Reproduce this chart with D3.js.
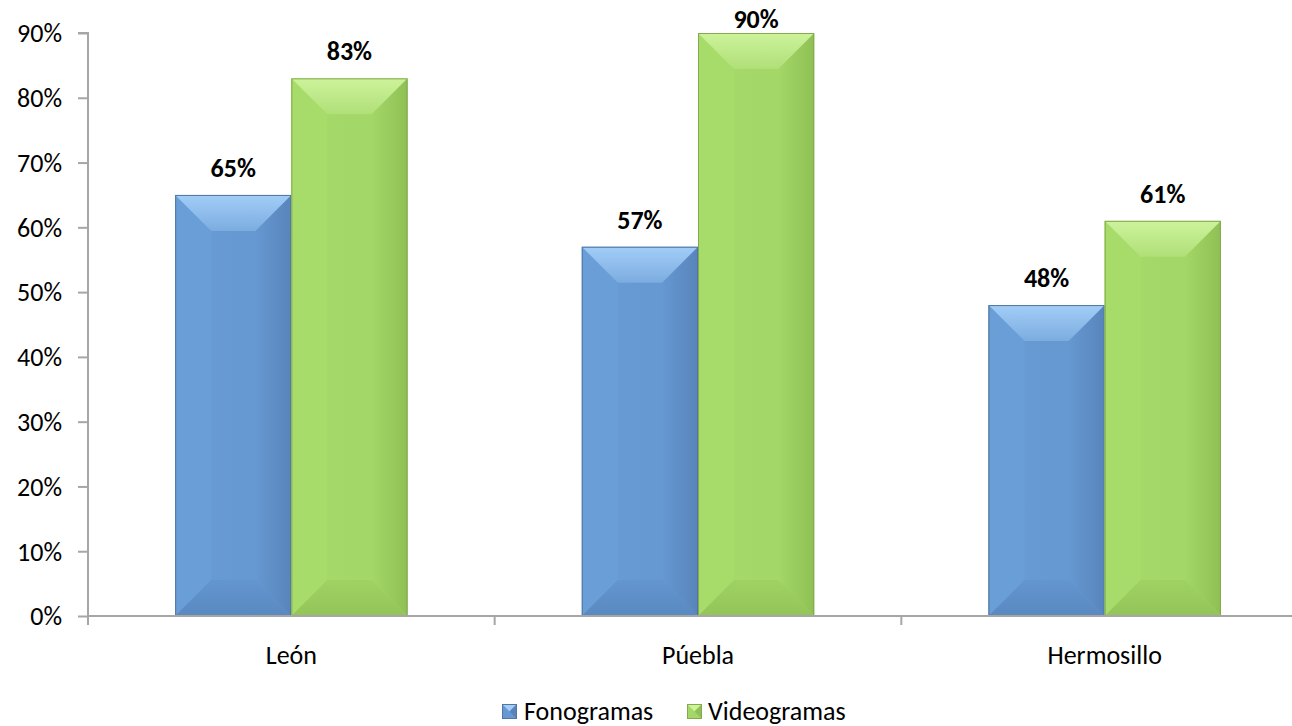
<!DOCTYPE html>
<html>
<head>
<meta charset="utf-8">
<script src="https://cdn.jsdelivr.net/npm/d3@7"></script>
<style>
  html, body { margin: 0; padding: 0; background: #ffffff; }
  svg { display: block; font-family: Carlito, Calibri, Lato, "Open Sans", sans-serif; }
</style>
</head>
<body>
<svg id="chart" width="1292" height="726"></svg>
<script>
// Chart data
const categories = ["León", "Púebla", "Hermosillo"];
const seriesNames = ["Fonogramas", "Videogramas"];
const fonogramas = [65, 57, 48];
const videogramas = [83, 90, 61];
const yTicks = [0, 10, 20, 30, 40, 50, 60, 70, 80, 90];

const seriesValues = [fonogramas, videogramas];

const FONT = "Carlito, Calibri, Lato, 'Open Sans', sans-serif";
const FS = 26;

// Bevel shading for each series: top, left, center, right, bottom, outline
const palettes = [
  { topA: "#a2cdf8", topB: "#7cacdf", left: "#6a9ed7", center: "#6698d1", right: "#5884bb",
    bottomA: "#6395cf", bottomB: "#5a89c0", stroke: "#52779f" },
  { topA: "#cdf39b", topB: "#b0df78", left: "#a7dc6b", center: "#a3d767", right: "#8fc055",
    bottomA: "#9fd263", bottomB: "#93c459", stroke: "#84a94f" }
];

const svg = d3.select("#chart");
const plot = { left: 88, right: 1308, top: 33, bottom: 616 };

const x = d3.scaleBand()
  .domain(categories)
  .range([plot.left, plot.right])
  .paddingInner(0.4286)
  .paddingOuter(0.2143);

const xs = d3.scaleBand()
  .domain(seriesNames)
  .range([0, x.bandwidth()])
  .padding(0);

const y = d3.scaleLinear()
  .domain([0, 90])
  .range([plot.bottom, plot.top]);

// Gradients
const defs = svg.append("defs");
palettes.forEach((p, i) => {
  const gt = defs.append("linearGradient").attr("id", "top" + i)
    .attr("x1", 0).attr("y1", 0).attr("x2", 0).attr("y2", 1);
  gt.append("stop").attr("offset", "0%").attr("stop-color", p.topA);
  gt.append("stop").attr("offset", "100%").attr("stop-color", p.topB);
  const gb = defs.append("linearGradient").attr("id", "bot" + i)
    .attr("x1", 0).attr("y1", 0).attr("x2", 0).attr("y2", 1);
  gb.append("stop").attr("offset", "0%").attr("stop-color", p.bottomA);
  gb.append("stop").attr("offset", "100%").attr("stop-color", p.bottomB);
  const gc = defs.append("linearGradient").attr("id", "ctr" + i)
    .attr("x1", 0).attr("y1", 0).attr("x2", 1).attr("y2", 0);
  gc.append("stop").attr("offset", "0%").attr("stop-color", p.left);
  gc.append("stop").attr("offset", "50%").attr("stop-color", p.center);
  gc.append("stop").attr("offset", "100%").attr("stop-color", p.center);
  const gr = defs.append("linearGradient").attr("id", "rgt" + i)
    .attr("x1", 0).attr("y1", 0).attr("x2", 1).attr("y2", 0);
  gr.append("stop").attr("offset", "0%").attr("stop-color", p.center);
  gr.append("stop").attr("offset", "100%").attr("stop-color", p.right);
});

// Y axis
const yAxis = d3.axisLeft(y)
  .tickValues(yTicks)
  .tickFormat(d => d + "%")
  .tickSize(10)
  .tickPadding(16);

const yg = svg.append("g")
  .attr("transform", `translate(${plot.left},0)`)
  .call(yAxis);
yg.attr("font-family", FONT).attr("font-size", FS);
yg.select(".domain").attr("stroke", "#a6a6a6").attr("stroke-width", 2)
  .attr("d", `M-10,${plot.top}H0V${plot.bottom}`);
yg.selectAll(".tick line").attr("stroke", "#a6a6a6").attr("stroke-width", 2);
yg.selectAll(".tick text").attr("fill", "#000").attr("dy", "0.34em");

// Bars with bevel faces
const bars = svg.append("g");
const labels = svg.append("g").attr("font-family", FONT).attr("font-size", FS).attr("font-weight", "bold");
const poly = pts => pts.map(q => q.join(",")).join(" ");
categories.forEach((cat, ci) => {
  seriesNames.forEach((s, si) => {
    const v = seriesValues[si][ci];
    const x0 = x(cat) + xs(s);
    const x1 = x0 + xs.bandwidth();
    const y0 = y(v);
    const y1 = y(0);
    const b = Math.min(36, (x1 - x0) / 2, (y1 - y0) / 2);
    const p = palettes[si];
    const g = bars.append("g");
    // center
    g.append("rect").attr("x", x0).attr("y", y0).attr("width", x1 - x0).attr("height", y1 - y0)
      .attr("fill", `url(#ctr${si})`);
    // right strip
    g.append("polygon").attr("points", poly([[x1, y0], [x1, y1], [x1 - b, y1 - b], [x1 - b, y0 + b]]))
      .attr("fill", `url(#rgt${si})`);
    // left strip
    g.append("polygon").attr("points", poly([[x0, y0], [x0 + b, y0 + b], [x0 + b, y1 - b], [x0, y1]]))
      .attr("fill", p.left);
    // bottom
    g.append("polygon").attr("points", poly([[x0, y1], [x0 + b, y1 - b], [x1 - b, y1 - b], [x1, y1]]))
      .attr("fill", `url(#bot${si})`);
    // top
    g.append("polygon").attr("points", poly([[x0, y0], [x1, y0], [x1 - b, y0 + b], [x0 + b, y0 + b]]))
      .attr("fill", `url(#top${si})`);
    // outline
    g.append("rect").attr("x", x0 + 0.5).attr("y", y0 + 0.5).attr("width", x1 - x0 - 1).attr("height", y1 - y0 - 1)
      .attr("fill", "none").attr("stroke", p.stroke).attr("stroke-width", 1);
    // value label, kept inside the top of the chart
    labels.append("text")
      .attr("x", (x0 + x1) / 2)
      .attr("y", Math.max(y0 - 18, 28))
      .attr("text-anchor", "middle")
      .attr("fill", "#000")
      .text(v + "%");
  });
});

// X axis
const xAxis = d3.axisBottom(x).tickSize(0).tickPadding(0);
const xg = svg.append("g")
  .attr("transform", `translate(0,${plot.bottom})`)
  .call(xAxis);
xg.attr("font-family", FONT).attr("font-size", FS);
xg.select(".domain").attr("stroke", "#a6a6a6").attr("stroke-width", 2)
  .attr("d", `M${plot.left},0H${plot.right}`);
xg.selectAll(".tick text").attr("fill", "#000").attr("y", 48).attr("dy", 0);
// category boundary ticks
const bounds = categories.map((c, i) => plot.left + i * x.step()).concat([plot.right]);
xg.selectAll(".bound").data(bounds).enter().append("line")
  .attr("x1", d => d).attr("x2", d => d).attr("y1", 0).attr("y2", 9)
  .attr("stroke", "#a6a6a6").attr("stroke-width", 2);

// Legend
const legendItems = [
  { name: seriesNames[0], x: 502, tx: 524 },
  { name: seriesNames[1], x: 687, tx: 708 }
];
const lg = svg.append("g").attr("font-family", FONT).attr("font-size", FS);
legendItems.forEach((it, i) => {
  const p = palettes[i];
  const sx = it.x, sy = 704, sz = 15;
  lg.append("rect").attr("x", sx).attr("y", sy).attr("width", sz).attr("height", sz).attr("fill", p.center);
  lg.append("polygon").attr("points", poly([[sx, sy], [sx + sz, sy], [sx + sz / 2, sy + sz / 2]]))
    .attr("fill", p.topA);
  lg.append("polygon").attr("points", poly([[sx + sz, sy], [sx + sz, sy + sz], [sx + sz / 2, sy + sz / 2]]))
    .attr("fill", p.right);
  lg.append("rect").attr("x", sx + 0.5).attr("y", sy + 0.5).attr("width", sz - 1).attr("height", sz - 1)
    .attr("fill", "none").attr("stroke", p.stroke);
  lg.append("text").attr("x", it.tx).attr("y", 720)
    .attr("fill", "#000").text(it.name);
});
</script>
</body>
</html>
